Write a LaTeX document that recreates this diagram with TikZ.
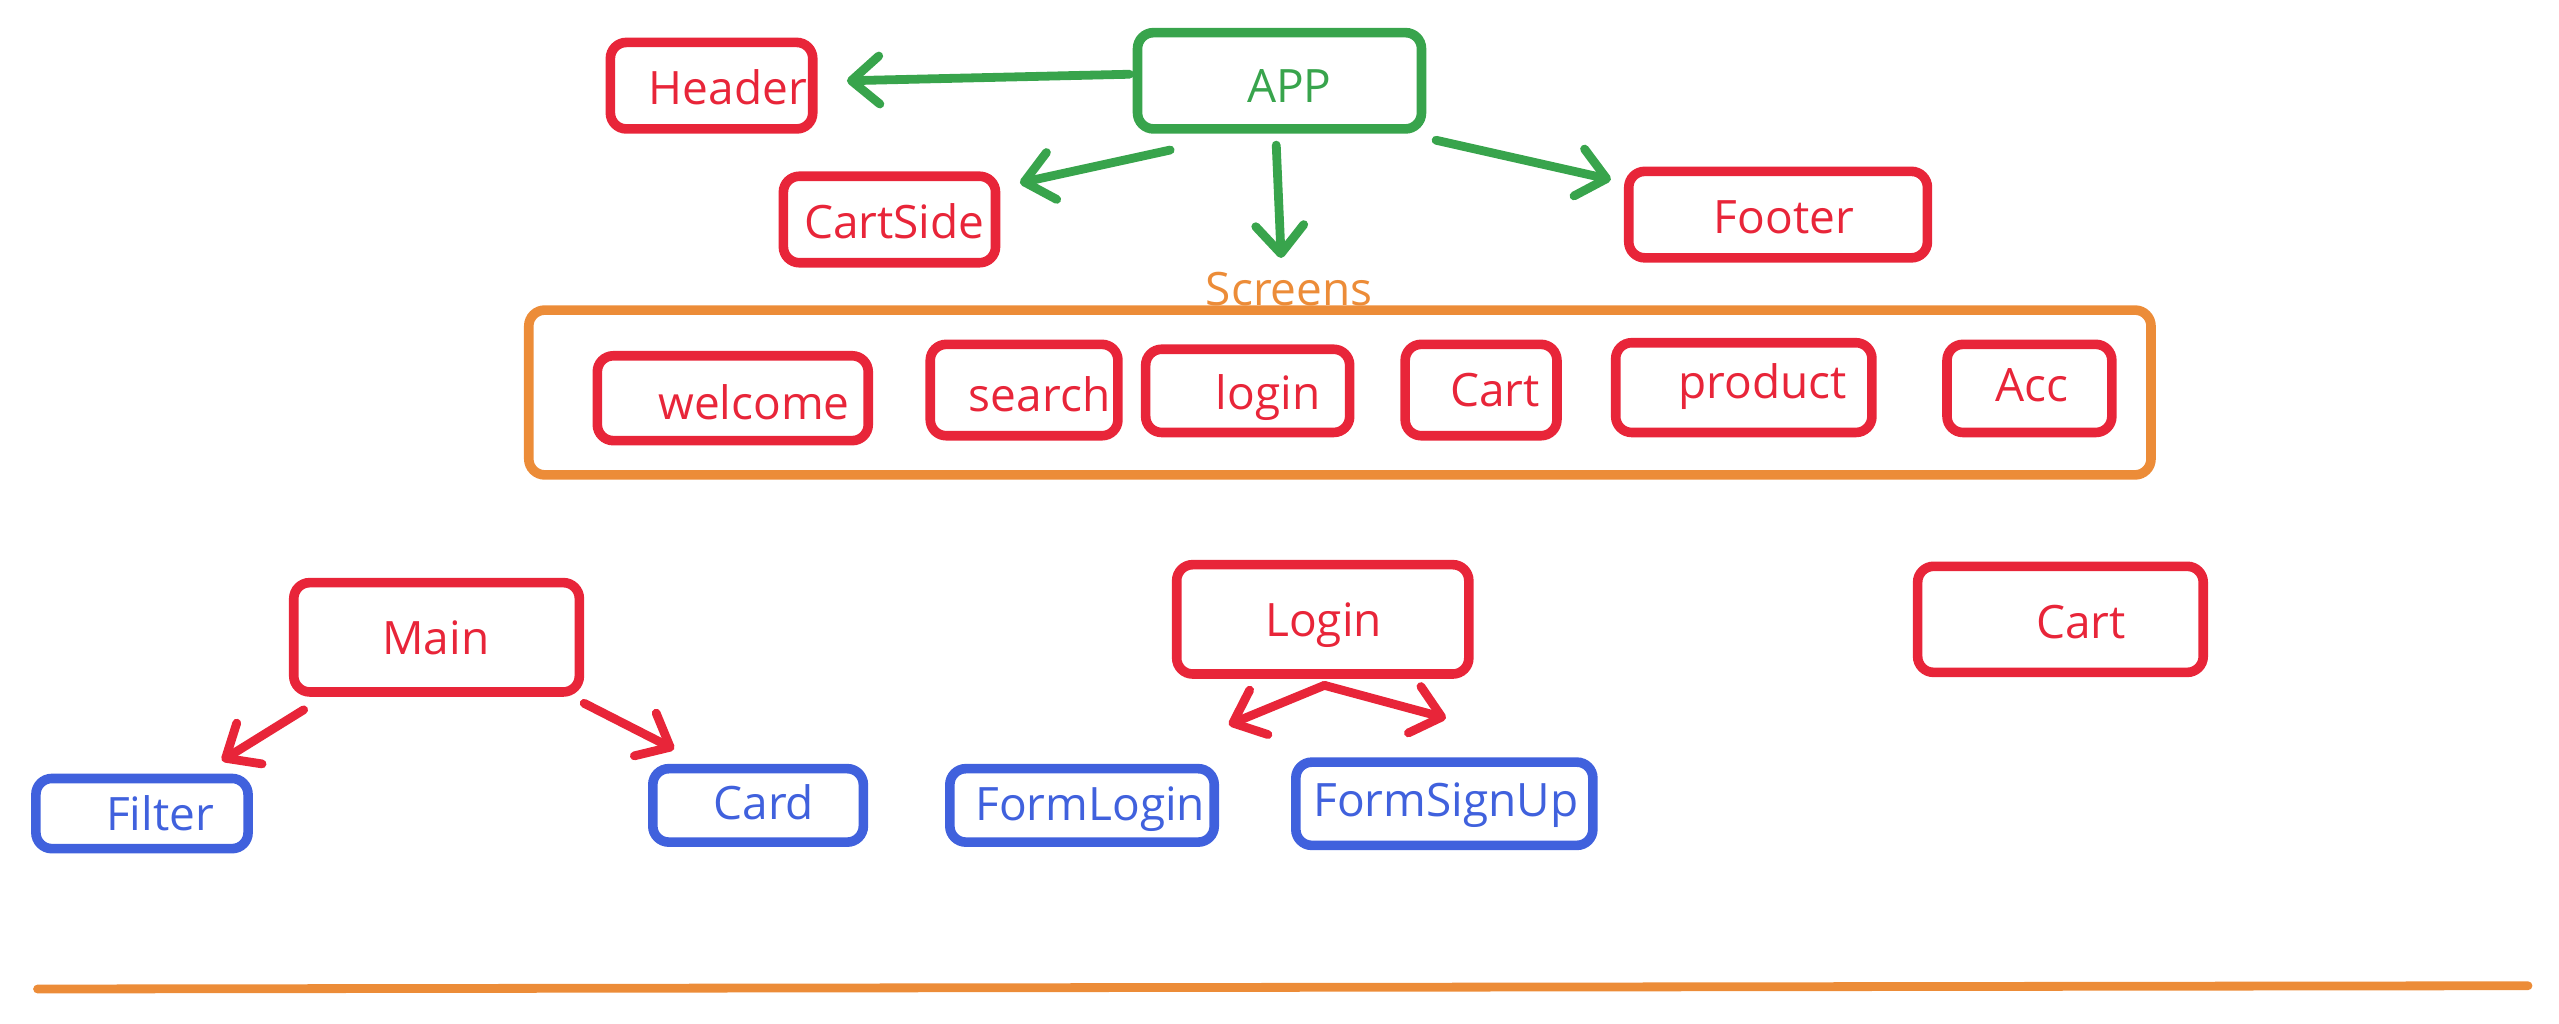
\documentclass[tikz,border=0pt]{standalone}
\usepackage{fontspec}
\setmainfont{Open Sans}
\usetikzlibrary{arrows.meta,calc,fit}

\definecolor{appred}{RGB}{232,37,57}
\definecolor{appgreen}{RGB}{56,164,76}
\definecolor{apporange}{RGB}{236,140,56}
\definecolor{appblue}{RGB}{64,97,221}

\tikzset{
  cbox/.style={draw, line width=2.4pt, rounded corners=4pt, inner sep=0pt},
  txt/.style={anchor=base, inner sep=0pt, font=\fontsize{11.5}{13}\selectfont},
  arr/.style={line width=2.2pt, line cap=round, -{Straight Barb[length=7pt,width=12pt,round]}}
}

\begin{document}
\begin{tikzpicture}[x=0.408pt, y=-0.408pt]
  \useasboundingbox (0,0) rectangle (1568,627);

  % App shell
  \node[cbox, appgreen, fit={(697,20) (871,79)}] (app) {};
  \node[txt, appgreen] (app-t) at (790,63) {APP};
  \node[cbox, appred, fit={(374,26) (498,79)}] (header) {};
  \node[txt, appred] (header-t) at (446,64) {Header};
  \node[cbox, appred, fit={(480,108) (610,161)}] (cartside) {};
  \node[txt, appred] (cartside-t) at (548,146) {CartSide};
  \node[cbox, appred, fit={(998,105) (1181,158)}] (footer) {};
  \node[txt, appred] (footer-t) at (1093,143) {Footer};

  % Screens
  \node[cbox, apporange, fit={(324,190) (1318,291)}] (screens) {};
  \node[txt, apporange] (screens-t) at (790,187) {Screens};
  \foreach \n/\a/\b/\c/\d/\tx/\ty/\t in {
      welcome/366/218/532/270/462/257/welcome,
      search/570/211/685/267/637/252/search,
      login/702/214/827/265/777/251/login,
      cart/861/211/954/267/916/249/Cart,
      product/990/210/1147/265/1080/244/product,
      acc/1193/211/1294/265/1245/246/Acc} {
    \node[cbox, appred, fit={(\a,\b) (\c,\d)}] (\n) {};
    \node[txt, appred] (\n-t) at (\tx,\ty) {\t};
  }

  % Pages
  \node[cbox, appred, fit={(180,357) (355,424)}] (main) {};
  \node[txt, appred] (main-t) at (267,401) {Main};
  \node[cbox, appred, fit={(721,346) (900,413)}] (loginpg) {};
  \node[txt, appred] (loginpg-t) at (811,390) {Login};
  \node[cbox, appred, fit={(1175,347) (1350,412)}] (cartpg) {};
  \node[txt, appred] (cartpg-t) at (1275,391) {Cart};

  % Components
  \foreach \n/\a/\b/\c/\d/\tx/\ty/\t in {
      filter/22/477/152/520/98/509/Filter,
      card/400/471/529/516/468/502/Card,
      formlogin/582/471/744/516/668/503/FormLogin,
      formsignup/794/467/976/518/886/500/FormSignUp} {
    \node[cbox, appblue, fit={(\a,\b) (\c,\d)}] (\n) {};
    \node[txt, appblue] (\n-t) at (\tx,\ty) {\t};
  }

  % Arrows
  \draw[arr, appgreen] ($(app.west)+(-2,-4)$) -- ($(header.east)+(18,-3)$);
  \draw[arr, appgreen] ($(app.south)+(-67,10)$) -- ($(cartside.north east)+(12,7)$);
  \draw[arr, appgreen] ($(app.south)+(-2,7)$) -- ($(screens-t.north)+(-5,-8)$);
  \draw[arr, appgreen] ($(app.south east)+(6,4)$) -- ($(footer.north west)+(-8,8)$);
  \draw[arr, appred] ($(main.south west)+(9,8)$) -- ($(filter.north east)+(-19,-8)$);
  \draw[arr, appred] ($(main.south east)+(0,4)$) -- ($(card.north west)+(16,-9)$);
  \draw[arr, appred] ($(loginpg.south)+(1,4)$) -- ($(formlogin.north east)+(6,-24)$);
  \draw[arr, appred] ($(loginpg.south)+(1,4)$) -- ($(formsignup.north)+(1,-24)$);

  % Divider
  \draw[apporange, line width=2.2pt, line cap=round] (23,606) -- (1549,604);
\end{tikzpicture}
\end{document}
